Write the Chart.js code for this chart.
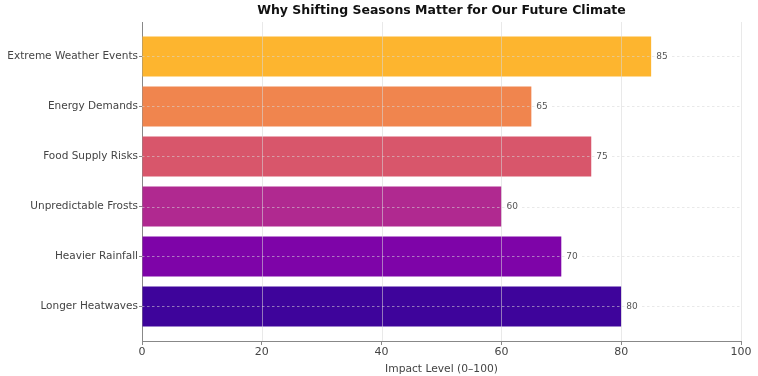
<!DOCTYPE html>
<html>
<head>
<meta charset="utf-8">
<script src="https://cdn.jsdelivr.net/npm/chart.js"></script>
<style>
  html, body { margin: 0; padding: 0; background: #fff; }
  #wrap { width: 758px; height: 376px; position: relative; }
</style>
</head>
<body>
<div id="wrap"><canvas id="seasonsChart"></canvas></div>
<script>
    // Top-to-bottom, as shown in the picture
    const categories = [
        'Extreme Weather Events',
        'Energy Demands',
        'Food Supply Risks',
        'Unpredictable Frosts',
        'Heavier Rainfall',
        'Longer Heatwaves'
    ];
    const impactValues = [85, 65, 75, 60, 70, 80];
    const barColors = ['#fdb52f', '#f0854e', '#d8566b', '#b02990', '#7e04a8', '#3e049b'];
    const xTicks = [0, 20, 40, 60, 80, 100];
    const chartTitle = 'Why Shifting Seasons Matter for Our Future Climate';

    const FONT = "'DejaVu Sans', sans-serif";

    // matplotlib draws its grid above the bars, so do it after the datasets
    const gridOnTop = {
        id: 'gridOnTop',
        afterDatasetsDraw(chart) {
            const ctx = chart.ctx;
            const area = chart.chartArea;
            const xs = chart.scales.x;
            const ys = chart.scales.y;
            ctx.save();
            ctx.lineWidth = 1;
            ctx.strokeStyle = 'rgba(215, 215, 215, 0.55)';
            ctx.setLineDash([]);
            for (const t of xTicks) {
                if (t === 0) continue;
                const px = Math.round(xs.getPixelForValue(t)) + 0.5;
                ctx.beginPath();
                ctx.moveTo(px, area.top);
                ctx.lineTo(px, area.bottom);
                ctx.stroke();
            }
            ctx.setLineDash([2.5, 2.5]);
            categories.forEach((c, i) => {
                const py = Math.round(ys.getPixelForValue(i)) + 0.5;
                ctx.beginPath();
                ctx.moveTo(area.left, py);
                ctx.lineTo(area.right, py);
                ctx.stroke();
            });
            ctx.setLineDash([]);

            // value labels
            ctx.font = '9px ' + FONT;
            ctx.textBaseline = 'middle';
            ctx.textAlign = 'left';
            impactValues.forEach((v, i) => {
                const px = xs.getPixelForValue(v) + 5;
                const py = ys.getPixelForValue(i);
                const w = ctx.measureText(String(v)).width;
                ctx.fillStyle = '#fff';
                ctx.fillRect(px - 1, py - 5, w + 3, 10);
                ctx.fillStyle = '#555';
                ctx.fillText(String(v), px, py);
            });

            // title, centred over the plot area like matplotlib
            ctx.font = 'bold 12.5px ' + FONT;
            ctx.textAlign = 'center';
            ctx.fillStyle = '#111';
            ctx.fillText(chartTitle, (area.left + area.right) / 2, 11);
            ctx.restore();
        }
    };

    const ctx = document.getElementById('seasonsChart').getContext('2d');
    new Chart(ctx, {
        type: 'bar',
        data: {
            datasets: [{
                data: impactValues.map((v, i) => ({ x: v, y: i })),
                backgroundColor: barColors,
                borderWidth: 0,
                barPercentage: 0.8,
                categoryPercentage: 1.0
            }]
        },
        options: {
            indexAxis: 'y',
            responsive: true,
            maintainAspectRatio: false,
            animation: false,
            layout: { padding: { left: 0, right: 17, top: 22, bottom: 0 } },
            plugins: {
                legend: { display: false },
                tooltip: { enabled: false },
                title: { display: false }
            },
            scales: {
                x: {
                    type: 'linear',
                    min: 0,
                    max: 100,
                    afterBuildTicks(scale) {
                        scale.ticks = xTicks.map(v => ({ value: v }));
                    },
                    afterFit(scale) { scale.height = 35; },
                    ticks: {
                        color: '#444',
                        font: { family: FONT, size: 11 },
                        padding: 1
                    },
                    grid: {
                        drawOnChartArea: false,
                        drawTicks: true,
                        tickLength: 4,
                        color: '#888'
                    },
                    border: { display: true, color: '#888', width: 1 },
                    title: {
                        display: true,
                        text: 'Impact Level (0–100)',
                        color: '#444',
                        font: { family: FONT, size: 10.7 },
                        padding: { top: 0, bottom: 0 }
                    }
                },
                y: {
                    type: 'linear',
                    reverse: true,
                    offset: false,
                    min: -0.69,
                    max: 5.69,
                    afterBuildTicks(scale) {
                        scale.ticks = categories.map((c, i) => ({ value: i }));
                    },
                    afterFit(scale) { scale.width = 142; },
                    ticks: {
                        color: '#444',
                        font: { family: FONT, size: 10.5 },
                        padding: 1,
                        callback: (v) => categories[v]
                    },
                    grid: {
                        offset: false,
                        drawOnChartArea: false,
                        drawTicks: true,
                        tickLength: 3,
                        color: '#888'
                    },
                    border: { display: true, color: '#888', width: 1 }
                }
            }
        },
        plugins: [gridOnTop]
    });
</script>
</body>
</html>
